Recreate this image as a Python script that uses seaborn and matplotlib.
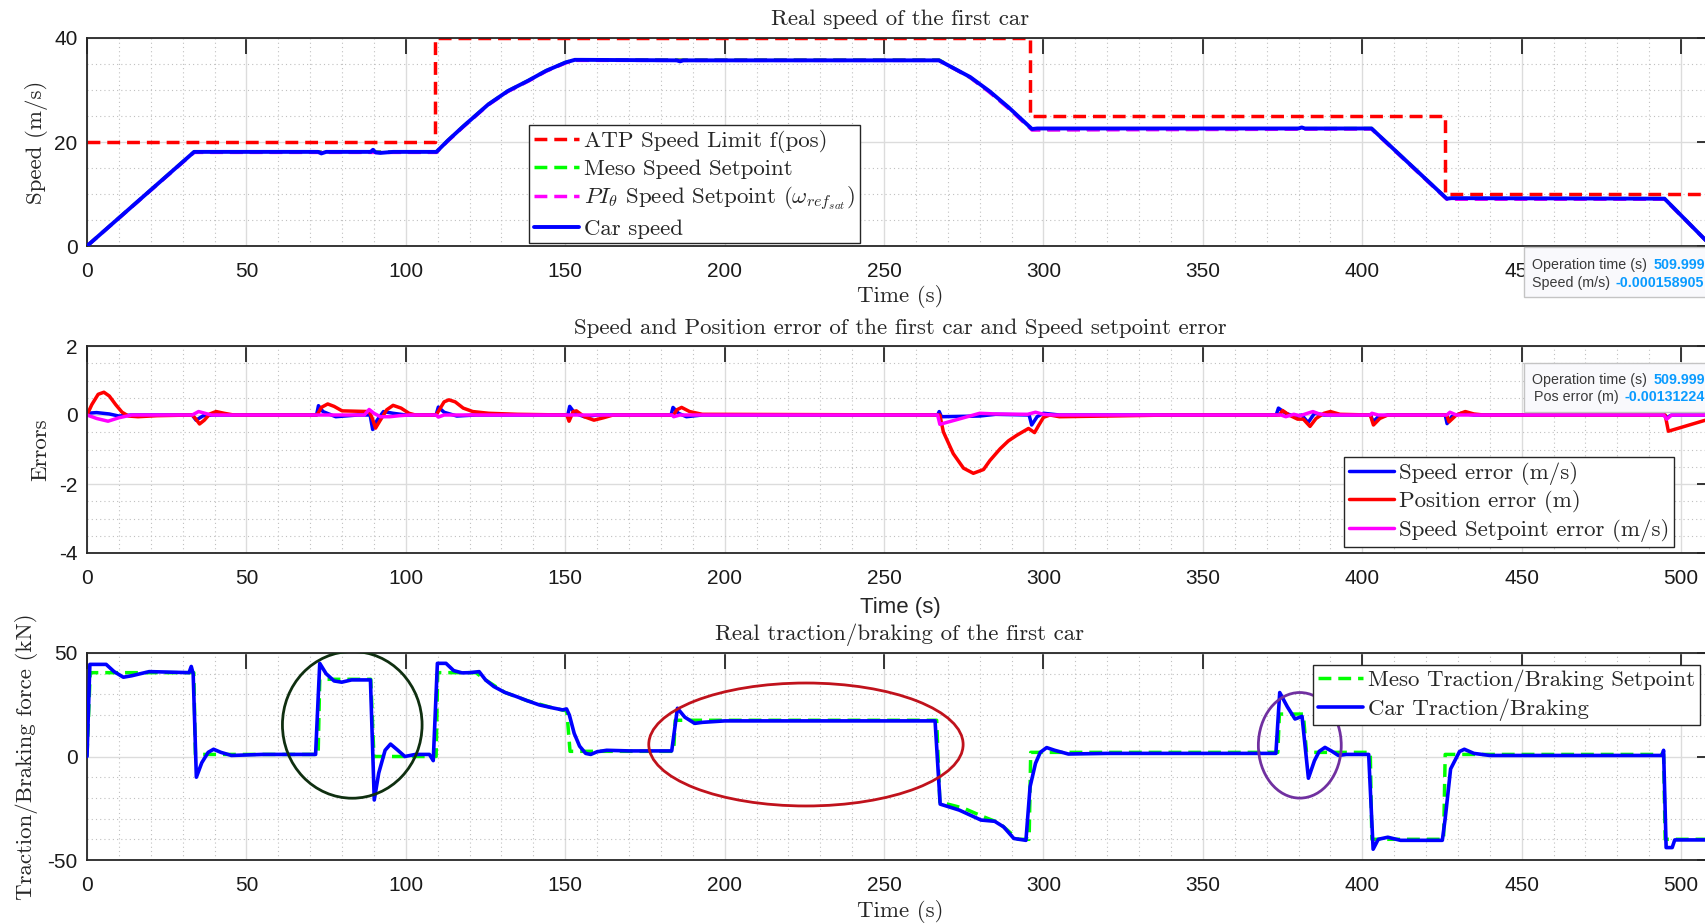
import numpy as np
import matplotlib
matplotlib.use("Agg")
import matplotlib.pyplot as plt
import seaborn as sns
from matplotlib.patches import Ellipse, Rectangle
from matplotlib.ticker import MultipleLocator

# ---------------- data ----------------
# Panel 1: speeds (m/s)
atp_t = [0, 109.2, 109.2, 295.8, 295.8, 426, 426, 510]
atp_v = [20, 20, 40, 40, 25, 25, 10, 10]

car_speed_t = [0, 33.6, 50, 72.5, 73.5, 75, 89, 89.7, 90.5, 92, 96, 109.6, 113.2, 118, 125.8, 132,
               138.4, 144, 150.1, 153, 155, 185, 186, 187, 267.2, 277, 283, 289, 296.4, 298,
               380, 381, 382, 402.9, 426.5, 428, 494.8, 509.5]
car_speed_v = [0, 18.1, 18.1, 18.1, 17.8, 18.1, 18.1, 18.5, 18.0, 17.9, 18.1, 18.1, 20.3, 23, 27.2, 29.8,
               31.8, 33.7, 35.3, 35.8, 35.8, 35.7, 35.5, 35.7, 35.7, 32.5, 29.8, 26.7, 22.5, 22.6,
               22.6, 22.8, 22.6, 22.6, 9.1, 9.2, 9.1, 0]

meso_speed_t = [0, 33.6, 109.6, 113.2, 118, 125.8, 132, 138.4, 144, 150.1, 153, 267.2, 277, 283, 289,
                296.4, 402.9, 426.5, 494.8, 509.5]
meso_speed_v = [0, 18.1, 18.1, 20.3, 23, 27.2, 29.8, 31.8, 33.7, 35.3, 35.8, 35.8, 32.4, 29.7, 26.6,
                22.4, 22.6, 9.1, 9.1, 0]
pi_speed_t = meso_speed_t
pi_speed_v = [0, 18.0, 18.0, 20.2, 22.9, 27.1, 29.7, 31.7, 33.6, 35.2, 35.7, 35.7, 32.4, 29.6, 26.5,
              22.3, 22.5, 9.0, 9.0, 0]

# Panel 2: errors
spd_err_t = [0, 3, 7, 10, 14, 33, 34.2, 36.5, 40, 72, 72.6, 74, 78, 85, 88.8, 89.6, 91, 93, 96, 100,
             109.5, 110.2, 112, 116, 122, 150.8, 151.4, 153, 156, 160, 183.2, 183.8, 185.5, 188, 193,
             266.8, 267.3, 268, 280, 285, 295.5, 296.3, 298, 300, 305, 373, 373.7, 376, 379, 381, 383,
             385, 388, 402.6, 403.4, 405, 408, 426, 426.6, 428, 431, 435, 494.8, 495.5, 497, 510]
spd_err_v = [0.05, 0.07, 0.03, -0.03, 0, 0, -0.15, -0.02, 0, 0, 0.27, 0.1, -0.05, 0, 0, -0.42, -0.15,
             0.1, 0.05, 0, 0, 0.23, 0.08, -0.03, 0, 0, 0.25, 0.05, -0.05, 0, 0, 0.22, 0.05, -0.05, 0,
             0, 0.1, -0.05, -0.03, 0.02, 0, -0.29, -0.05, 0.05, 0, 0, 0.2, 0.05, -0.05, 0, -0.22,
             0.05, 0, 0, -0.2, -0.05, 0, 0, -0.25, -0.05, 0.05, 0, 0, -0.08, 0, 0]

pos_err_t = [0, 1.5, 3.5, 5.3, 7, 9, 11, 13, 16, 22, 33, 34, 35.3, 36.8, 38.5, 40.5, 43, 46, 72, 72.5,
             73.5, 75.5, 77.5, 80, 88.5, 89.5, 90.5, 92, 94, 96, 98.5, 101, 103, 109.5, 110.5, 112,
             113.5, 115.5, 118, 121, 126, 135, 150.5, 151.2, 152.5, 153.5, 156, 159, 162, 165, 184,
             185, 186.5, 189, 193, 267.5, 268.6, 271.7, 274.9, 278, 281.2, 283.2, 286.4, 289, 291.6,
             295.3, 297.2, 298.5, 300, 302, 305, 320, 340, 374, 375, 377, 379.7, 381.5, 383.6, 385.5,
             388, 390, 393, 402.5, 403.5, 405.5, 408, 426.5, 427.2, 429.5, 432.3, 435, 438, 495, 496,
             508, 510]
pos_err_v = [0, 0.3, 0.6, 0.66, 0.55, 0.3, 0.08, -0.03, -0.05, -0.02, 0, -0.1, -0.26, -0.15, 0.03,
             0.1, 0.05, 0, 0, 0.05, 0.22, 0.32, 0.25, 0.12, 0.1, -0.1, -0.38, -0.15, 0.15, 0.28, 0.2,
             0.05, 0, 0, 0.15, 0.38, 0.44, 0.38, 0.2, 0.1, 0.05, 0.02, 0, -0.18, 0.1, 0.12, -0.05,
             -0.15, -0.08, 0, 0, 0.15, 0.22, 0.1, 0.02, 0, -0.49, -1.12, -1.54, -1.69, -1.58, -1.32,
             -0.98, -0.75, -0.59, -0.39, -0.51, -0.3, -0.07, 0, -0.05, -0.03, 0, 0, 0.13, 0.0, -0.12,
             -0.12, -0.33, -0.1, 0.05, 0.1, 0.02, 0, -0.29, -0.1, 0, 0, -0.2, 0, 0.1, 0.03, 0, 0,
             -0.47, -0.14, -0.08]

sp_err_t = [0, 3, 6.6, 10, 14, 33, 35, 37, 39, 87, 88.5, 90, 92, 95, 98, 101, 109.5, 110.2, 112, 183.5,
            184, 186, 266.8, 267.5, 273, 280, 285, 295, 297.5, 300, 303, 374.5, 376, 378.5, 380.5,
            384.5, 386.5, 389, 402.5, 403, 405, 426.5, 427.5, 429.5, 494.5, 495.5, 497, 510]
sp_err_v = [0, -0.1, -0.18, -0.08, 0, 0, 0.1, 0.05, 0, 0, 0.16, 0.05, -0.05, -0.05, -0.02, 0, 0,
            -0.06, 0, 0, -0.05, 0, 0, -0.27, -0.13, 0.05, 0.03, 0.02, 0.08, 0.02, 0, 0, -0.05, 0.02,
            -0.02, 0.1, 0.03, 0, 0, 0.05, 0, 0, 0.08, 0, 0, -0.12, 0, 0]

# Panel 3: traction / braking (kN)
meso_force_t = [0, 1, 33.5, 34, 72.5, 73, 89, 90, 109.5, 110, 122, 125, 131, 138, 146, 150.5, 151.5,
                184, 184.5, 266.5, 267.5, 275, 281, 286, 292, 295.5, 296, 373.5, 374, 381.5, 382.5,
                402.5, 403, 425.5, 426, 494.5, 495, 510]
meso_force_v = [0, 40.5, 40.5, 1, 1, 37.3, 37.3, 0, 0, 40.5, 40.5, 37, 31, 27, 23.5, 22, 2.5, 2.5,
                17.5, 17.5, -22, -25, -29, -32, -40, -40, 2, 2, 20.5, 20.5, 2, 2, -40, -40, 1, 1,
                -40, -40]

car_force_t = [0, 0.9, 6, 8.5, 11.4, 14, 19.5, 25, 32, 32.7, 33.3, 34.3, 36, 38, 39.7, 42, 45.3, 55,
               71.7, 73, 75, 77.5, 79.9, 83, 88.9, 90.1, 91.5, 93.5, 95.2, 97.5, 99.7, 103, 107.4,
               108.6, 109.9, 112.6, 115, 117.6, 120, 123, 125, 127.6, 131, 134.8, 138, 141.9, 146,
               149.2, 150.4, 151.3, 152.8, 154.5, 156.4, 158, 160, 163, 170, 183.4, 185.2, 187.5,
               190.6, 193, 200, 266, 267.6, 273.6, 280.4, 284.7, 287.5, 290.7, 294.5, 295.8, 297.5,
               299, 301, 303.5, 307.8, 320, 372.9, 374.1, 376.5, 378.9, 381.1, 383.1, 385, 386.5,
               388.3, 390.5, 392.5, 395, 402, 403.4, 405, 408, 412, 425.1, 426, 427.7, 430.5, 432,
               435, 440, 480, 494.1, 494.5, 495.3, 497.2, 498, 510]
car_force_v = [0, 44.5, 44.5, 41, 38.3, 39, 41, 40.8, 40.5, 43.5, 40, -10, -3, 2, 3.5, 2, 0.5, 1, 1,
               45, 40, 36.5, 35.9, 37, 37, -21, -8, 3, 6, 3, 0, 1, 1, -2, 45, 45, 41.5, 40.4, 40.5,
               41, 37, 33.8, 31, 28.9, 27, 24.9, 23.5, 22.5, 23, 20, 11.2, 5, 1.5, 1, 2.3, 3, 2.7,
               2.7, 23.3, 19, 16, 16.5, 17.2, 17.2, -23, -25.9, -30.7, -31.3, -34, -39.6, -40.5,
               -14.6, -3.3, 2, 4.3, 3, 1.2, 1.5, 1.5, 30.9, 24, 18.1, 19.4, -10.5, -2, 2.5, 4.4, 2.5,
               0.5, 1, 1, -44.8, -40, -39, -40.5, -40.5, -30, -6, 2.4, 3.5, 1.5, 0.5, 0.5, 0.5, 3,
               -44, -44, -40.3, -40.3]

x_ticks = [0, 50, 100, 150, 200, 250, 300, 350, 400, 450, 500]

# ---------------- style ----------------
sns.set_theme(style="white")
plt.rcParams['font.family'] = ['Liberation Sans', 'DejaVu Sans']
plt.rcParams['mathtext.fontset'] = 'cm'
plt.rcParams['axes.unicode_minus'] = False
SERIF = 'cmr10'
SER = 16.5
TICK = 15

W, H = 1706, 923
fig = plt.figure(figsize=(W / 100, H / 100), dpi=100)


def ax_at(left, top, right, bottom):
    return fig.add_axes([left / W, 1 - bottom / H, (right - left) / W, (bottom - top) / H])


ax1 = ax_at(87, 38, 1713, 246)
ax2 = ax_at(87, 346, 1713, 553)
ax3 = ax_at(87, 653, 1713, 860)


def style(ax, yticks, ystep, ylim):
    ax.set_xlim(0, 510)
    ax.set_ylim(*ylim)
    ax.set_xticks(x_ticks)
    ax.set_xticklabels([str(v) for v in x_ticks])
    ax.set_yticks(yticks)
    ax.set_yticklabels([str(v) for v in yticks])
    ax.xaxis.set_minor_locator(MultipleLocator(10))
    ax.yaxis.set_minor_locator(MultipleLocator(ystep))
    ax.grid(which='major', color='#dcdcdc', lw=1.0, ls='-')
    ax.grid(which='minor', color='#c0c0c0', lw=0.8, ls=(0, (1, 2.8)))
    ax.tick_params(which='major', direction='in', length=11.5, width=1.3, color='#262626',
                   top=True, right=True, labelsize=TICK, labelcolor='#1a1a1a')
    ax.tick_params(axis='x', which='major', pad=11.5)
    ax.tick_params(axis='y', which='major', pad=6.8)
    ax.tick_params(which='minor', length=0)
    for s in ax.spines.values():
        s.set_color('#262626')
        s.set_linewidth(1.3)
    ax.set_axisbelow(True)
    ax.set_facecolor('white')


def line(ax, t, v, color, ls='-', lw=2.5, label=None, z=2):
    sns.lineplot(x=np.asarray(t), y=np.asarray(v), ax=ax, color=color, linestyle=ls, linewidth=lw,
                 label=label, estimator=None, sort=False, zorder=z)


DASH = (0, (3.7, 2.0))


def ylab(ax, text, x):
    ax.set_ylabel(text, fontfamily=SERIF, fontsize=SER, va='center')
    ax.yaxis.set_label_coords(x, 0.5)


def xlab(ax, text, y, serif=True):
    if serif:
        ax.set_xlabel(text, fontfamily=SERIF, fontsize=SER, va='center')
    else:
        ax.set_xlabel(text, fontsize=16, va='center')
    ax.xaxis.set_label_coords(0.5, y)


# ---- panel 1 ----
line(ax1, atp_t, atp_v, '#ff0000', DASH, 2.5, 'ATP Speed Limit f(pos)')
line(ax1, meso_speed_t, meso_speed_v, '#00ff00', DASH, 2.5, 'Meso Speed Setpoint')
line(ax1, pi_speed_t, pi_speed_v, '#ff00ff', DASH, 2.5,
     r'$PI_\theta$ Speed Setpoint ($\omega_{ref_{sat}}$)')
line(ax1, car_speed_t, car_speed_v, '#0000ff', '-', 2.8, 'Car speed', z=3)
style(ax1, [0, 20, 40], 5, (0, 40))
ax1.set_title('Real speed of the first car', fontfamily=SERIF, fontsize=SER, pad=9)
ylab(ax1, 'Speed (m/s)', -0.031)
xlab(ax1, 'Time (s)', -0.242)

# ---- panel 2 ----
line(ax2, spd_err_t, spd_err_v, '#0000ff', '-', 2.5, 'Speed error (m/s)')
line(ax2, pos_err_t, pos_err_v, '#ff0000', '-', 2.5, 'Position error (m)')
line(ax2, sp_err_t, sp_err_v, '#ff00ff', '-', 2.5, 'Speed Setpoint error (m/s)')
style(ax2, [-4, -2, 0, 2], 0.5, (-4, 2))
ax2.set_title('Speed and Position error of the first car and Speed setpoint error',
              fontfamily=SERIF, fontsize=SER, pad=9)
ylab(ax2, 'Errors', -0.0285)
xlab(ax2, 'Time (s)', -0.262, serif=False)

# ---- panel 3 ----
line(ax3, meso_force_t, meso_force_v, '#00ff00', DASH, 2.5, 'Meso Traction/Braking Setpoint')
line(ax3, car_force_t, car_force_v, '#0000ff', '-', 2.6, 'Car Traction/Braking', z=3)
style(ax3, [-50, 0, 50], 10, (-50, 50))
ax3.set_title('Real traction/braking of the first car', fontfamily=SERIF, fontsize=SER, pad=9)
ylab(ax3, 'Traction/Braking force (kN)', -0.0375)
xlab(ax3, 'Time (s)', -0.247)

for ell in [((83.2, 15.3), 43.8, 70.9, '#0f2f10'),
            ((225.5, 5.8), 98.6, 59.4, '#c0121c'),
            ((380.4, 5.4), 26.0, 51.0, '#7030a0')]:
    ax3.add_patch(Ellipse(ell[0], ell[1], ell[2], fill=False, edgecolor=ell[3], lw=2.0, zorder=5))


# ---- legends ----
def legend(ax, x, y, spacing):
    leg = ax.legend(loc='upper left', bbox_to_anchor=(x, y), borderaxespad=0,
                    prop={'family': SERIF, 'size': SER}, handlelength=2.0, handletextpad=0.2,
                    borderpad=0.2, labelspacing=spacing, frameon=True, fancybox=False, framealpha=1,
                    edgecolor='#262626', facecolor='white')
    leg.get_frame().set_linewidth(1.0)
    leg.set_zorder(10)
    return leg


legend(ax1, (529 - 87) / 1626, (246 - 125) / 208, 0.26)
legend(ax2, (1344 - 87) / 1626, (553 - 457) / 207, 0.25)
legend(ax3, (1313 - 87) / 1626, (860 - 665) / 207, 0.26)


# ---- data tips ----
def fx(x):
    return x / W


def fy(y):
    return 1 - y / H


def datatip(top, bottom, rows):
    fig.add_artist(Rectangle((fx(1524), fy(bottom)), fx(1730) - fx(1524), fy(top) - fy(bottom),
                             transform=fig.transFigure, facecolor='#f9f9fc', edgecolor='#c4c4c4',
                             lw=1.0, zorder=20))
    for (lx, ly, label, vx, val) in rows:
        fig.text(fx(lx), fy(ly), label, color='#3a3a3a', fontsize=10.3, va='center', ha='left',
                 zorder=21)
        fig.text(fx(vx), fy(ly), val, color='#0a9bff', fontsize=10.3, fontweight='bold',
                 va='center', ha='left', zorder=21)


datatip(246.7, 297.3, [(1532, 265, 'Operation time (s)', 1653.3, '509.999'),
                       (1532, 282.7, 'Speed (m/s)', 1615.7, '-0.000158905')])
datatip(363.3, 412.3, [(1532, 380, 'Operation time (s)', 1653.3, '509.999'),
                       (1534, 397.3, 'Pos error (m)', 1624.3, '-0.00131224')])

fig.savefig('out.png', dpi=100, facecolor='white')
